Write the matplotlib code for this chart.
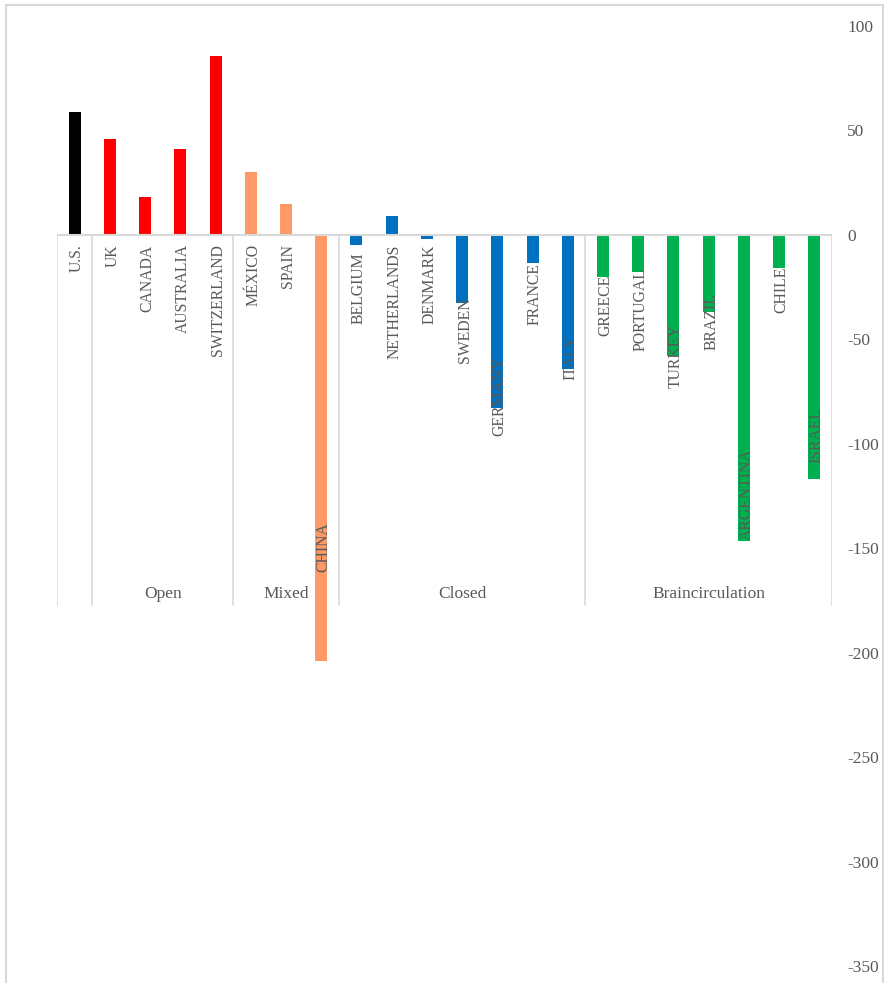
import matplotlib.pyplot as plt
from matplotlib.patches import Rectangle

plt.rcParams["axes.unicode_minus"] = False

# countries, values and the group each one falls in
countries = ["U.S.", "UK", "CANADA", "AUSTRALIA", "SWITZERLAND",
             "MÉXICO", "SPAIN", "CHINA",
             "BELGIUM", "NETHERLANDS", "DENMARK", "SWEDEN", "GERMANY", "FRANCE", "ITALY",
             "GREECE", "PORTUGAL", "TURKEY", "BRAZIL", "ARGENTINA", "CHILE", "ISRAEL"]
values = [59, 46, 18, 41, 85.5,
          30, 15, -204,
          -5, 9, -2, -32.5, -83, -13.5, -64,
          -20, -18, -58, -37, -146.5, -16, -117]
groups = ["", "Open", "Mixed", "Closed", "Braincirculation"]
group_sizes = [1, 4, 3, 7, 7]
group_colors = ["#000000", "#FF0000", "#FF9966", "#0070C0", "#00B050"]

# where the top of each rotated category label sits (y units), as laid out in the original
label_top = [-4.5, -4.5, -4.5, -4.5, -4.5,
             -4.5, -4.5, -137.8,
             -8.6, -4.5, -4.5, -30.1, -58.4, -13.4, -48.3,
             -19.1, -15.8, -42.6, -27.8, -102.4, -15.3, -82.8]

txt = "#595959"
line = "#D9D9D9"
font = ["Liberation Serif", "DejaVu Serif"]

fig = plt.figure(figsize=(8.84, 9.83), dpi=100)
fig.add_artist(Rectangle((6 / 884, -0.01), 877 / 884, 1 - 5 / 983 + 0.01,
                         transform=fig.transFigure, fill=False,
                         edgecolor=line, linewidth=1.5))
ax = fig.add_axes([57 / 884, 1 - 966 / 983, 775 / 884, 940 / 983])

colors = []
for c, n in zip(group_colors, group_sizes):
    colors += [c] * n
x = list(range(len(countries)))
ax.bar(x, values, width=0.34, color=colors, zorder=2)

ax.set_xlim(-0.5, len(countries) - 0.5)
ax.set_ylim(-350, 100)
for s in ax.spines.values():
    s.set_visible(False)
ax.set_xticks([])
ax.yaxis.tick_right()
ax.set_yticks(range(-350, 101, 50))
ax.tick_params(axis="y", length=0, pad=11, colors=txt)
for lab in ax.get_yticklabels():
    lab.set_family(font)
    lab.set_fontsize(12.5)
    lab.set_horizontalalignment("left")

ax.axhline(0, color=line, linewidth=1.5, zorder=3)

# category labels, reading bottom to top
for xi, name, top in zip(x, countries, label_top):
    ax.text(xi + 0.07, top, name, rotation=90, ha="center", va="top",
            color=txt, fontsize=11.3, family=font, zorder=4)

# group separators and group labels
edge = -0.5
ax.plot([edge, edge], [0, -177], color=line, linewidth=1.2, zorder=1)
for g, n in zip(groups, group_sizes):
    ax.plot([edge + n, edge + n], [0, -177], color=line, linewidth=1.2, zorder=1)
    if g:
        ax.text(edge + n / 2, -172, g, ha="center", va="center",
                color=txt, fontsize=12.5, family=font, zorder=4)
    edge += n

fig.savefig("out.png", dpi=100)
